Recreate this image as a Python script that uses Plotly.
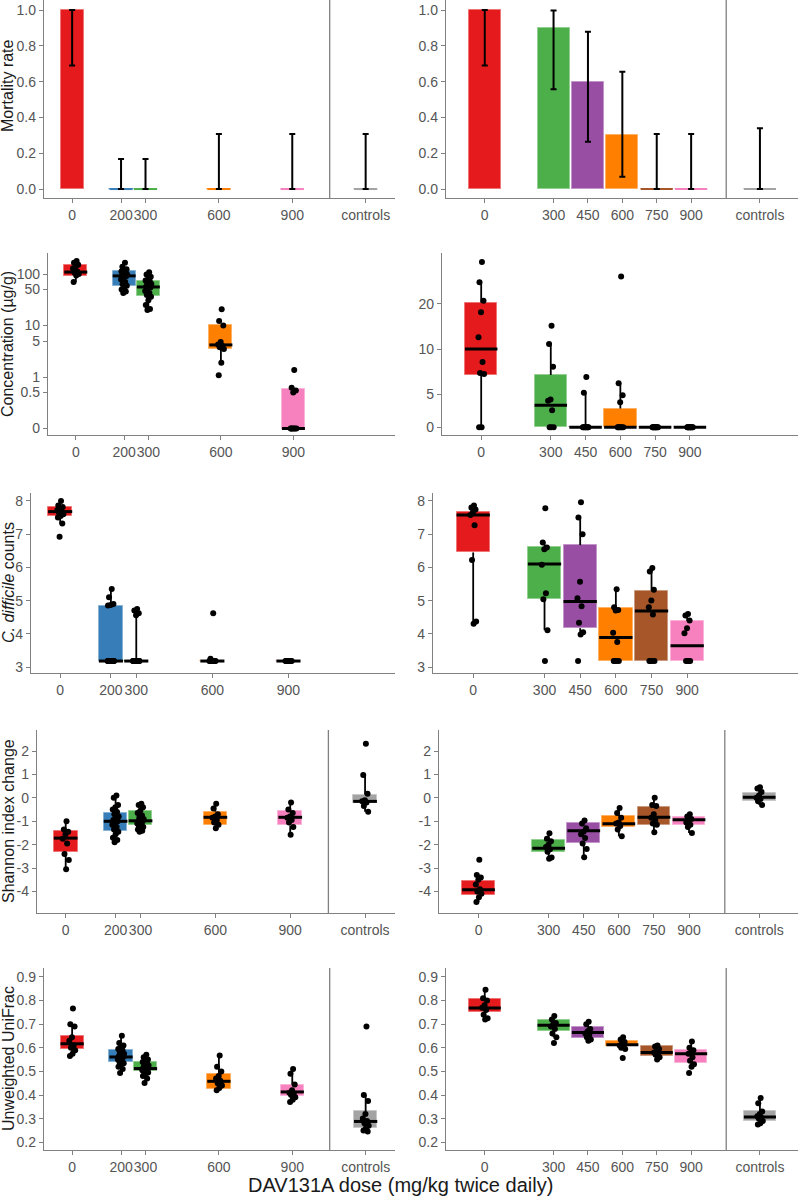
import math
import plotly.graph_objects as go

# ---------------- data ----------------
LEFT_DOSES = ["0", "200", "300", "600", "900", "controls"]
RIGHT_DOSES = ["0", "300", "450", "600", "750", "900", "controls"]
DOSE_POS = {"0": 0, "200": 200, "300": 300, "450": 450, "600": 600,
            "750": 750, "900": 900, "controls": 1200}
DOSE_COLOR = {"0": "#E41A1C", "200": "#377EB8", "300": "#4DAF4A", "450": "#984EA3",
              "600": "#FF7F00", "750": "#A65628", "900": "#F781BF", "controls": "#A3A3A3"}

# Row 1: mortality rate with CI
mort_left = [1.0, 0, 0, 0, 0, 0]
mort_left_lo = [0.69, 0, 0, 0, 0, 0]
mort_left_hi = [1.0, 0.168, 0.168, 0.307, 0.307, 0.307]
mort_right = [1.0, 0.9, 0.6, 0.3, 0, 0, 0]
mort_right_lo = [0.69, 0.557, 0.264, 0.069, 0, 0, 0]
mort_right_hi = [1.0, 0.997, 0.879, 0.655, 0.307, 0.307, 0.339]

# Row 2: concentration (ug/g), 0 = below detection
conc_left_doses = ["0", "200", "300", "600", "900"]
conc_left_pts = {
    "0": [178, 165, 152, 140, 128, 112, 106, 100, 94, 70],
    "200": [165, 138, 124, 116, 112, 108, 103, 98, 95, 92, 90, 86, 78, 70, 63, 59, 56, 50, 46, 43],
    "300": [108, 98, 88, 80, 75, 72, 68, 64, 60, 57, 55, 52, 47, 43, 39, 36, 31, 25, 21, 20],
    "600": [20.6, 12.2, 10, 4.8, 4.3, 4.0, 3.8, 3.5, 1.9, 1.08],
    "900": [1.37, 0.62, 0.55, 0.5, 0, 0, 0, 0, 0, 0],
}
conc_left_q1 = [91, 59, 38, 3.45, 0]
conc_left_med = [109, 92, 56, 4.2, 0]
conc_left_q3 = [149, 114, 73, 10.2, 0.58]
conc_left_lw = [70, 43, 20, 1.9, 0]
conc_left_uw = [178, 165, 108, 10.2, 0.58]

conc_right_doses = ["0", "300", "450", "600", "750", "900"]
conc_right_pts = {
    "0": [38.2, 27.9, 21.0, 17.6, 12.0, 8.2, 6.9, 6.8, 0, 0],
    "300": [14.3, 10.8, 7.6, 4.6, 4.5, 3.9, 0, 0, 0],
    "450": [6.5, 5.1, 0, 0, 0, 0, 0, 0, 0, 0],
    "600": [30.5, 5.9, 4.9, 4.4, 0, 0, 0, 0, 0, 0],
    "750": [0, 0, 0, 0, 0, 0, 0, 0, 0, 0],
    "900": [0, 0, 0, 0, 0, 0, 0, 0, 0, 0],
}
conc_right_q1 = [6.7, 0, 0, 0, 0, 0]
conc_right_med = [10, 4.2, 0, 0, 0, 0]
conc_right_q3 = [20.4, 6.7, 0, 4.0, 0, 0]
conc_right_lw = [0, 0, 0, 0, 0, 0]
conc_right_uw = [27.9, 10.8, 5.1, 5.9, 0, 0]

# Row 3: C. difficile counts
cd_left_doses = ["0", "200", "300", "600", "900"]
cd_left_pts = {
    "0": [8.0, 7.86, 7.82, 7.78, 7.72, 7.68, 7.65, 7.6, 7.55, 7.5, 7.32, 6.92],
    "200": [5.35, 5.1, 4.9, 4.87, 4.85, 3.18, 3.18, 3.18, 3.18, 3.18, 3.18, 3.18, 3.18,
            3.18, 3.18, 3.18, 3.18, 3.18, 3.18, 3.18],
    "300": [4.75, 4.7, 4.62, 4.56, 3.18, 3.18, 3.18, 3.18, 3.18, 3.18, 3.18, 3.18, 3.18,
            3.18, 3.18, 3.18, 3.18, 3.18, 3.18, 3.18],
    "600": [4.62, 3.25, 3.18, 3.18, 3.18, 3.18, 3.18, 3.18, 3.18, 3.18],
    "900": [3.18, 3.18, 3.18, 3.18, 3.18, 3.18, 3.18, 3.18, 3.18, 3.18],
}
cd_left_q1 = [7.55, 3.18, 3.18, 3.18, 3.18]
cd_left_med = [7.68, 3.18, 3.18, 3.18, 3.18]
cd_left_q3 = [7.82, 4.85, 3.18, 3.18, 3.18]
cd_left_lw = [7.32, 3.18, 3.18, 3.18, 3.18]
cd_left_uw = [8.0, 5.35, 4.75, 3.25, 3.18]

cd_right_doses = ["0", "300", "450", "600", "750", "900"]
cd_right_pts = {
    "0": [7.86, 7.8, 7.74, 7.67, 7.58, 7.27, 6.22, 4.37, 4.3],
    "300": [7.78, 6.75, 6.6, 6.55, 6.08, 5.22, 5.04, 4.11, 3.18],
    "450": [7.96, 7.5, 7.0, 5.57, 5.07, 4.83, 4.33, 4.05, 3.98, 3.18],
    "600": [5.34, 4.8, 4.72, 4.7, 4.03, 3.75, 3.18, 3.18, 3.18, 3.18],
    "750": [5.98, 5.88, 5.33, 5.0, 4.8, 4.58, 3.18, 3.18, 3.18, 3.18],
    "900": [4.6, 4.55, 4.4, 4.17, 4.02, 3.18, 3.18, 3.18, 3.18],
}
cd_right_q1 = [6.45, 5.05, 4.17, 3.18, 3.18, 3.18]
cd_right_med = [7.58, 6.1, 4.97, 3.89, 4.69, 3.64]
cd_right_q3 = [7.68, 6.6, 6.67, 4.77, 5.3, 4.39]
cd_right_lw = [4.3, 4.11, 3.98, 3.18, 3.18, 3.18]
cd_right_uw = [7.86, 6.75, 7.5, 5.34, 5.98, 4.6]

# Row 4: Shannon index change
sh_left_pts = {
    "0": [-1.0, -1.35, -1.45, -1.55, -1.75, -1.95, -2.4, -2.65, -3.05],
    "200": [0.1, 0.0, -0.3, -0.4, -0.5, -0.6, -0.7, -0.8, -0.9, -0.95, -1.0, -1.05, -1.15,
            -1.25, -1.35, -1.45, -1.55, -1.7, -1.8, -1.9],
    "300": [-0.25, -0.3, -0.4, -0.55, -0.65, -0.75, -0.85, -0.9, -0.95, -1.0, -1.0, -1.05,
            -1.1, -1.15, -1.2, -1.25, -1.3, -1.35, -1.4, -1.45],
    "600": [-0.25, -0.45, -0.7, -0.8, -0.85, -0.95, -1.05, -1.15, -1.3],
    "900": [-0.2, -0.5, -0.65, -0.8, -0.85, -0.95, -1.05, -1.25, -1.58],
    "controls": [2.31, 0.98, 0.18, -0.1, -0.15, -0.2, -0.35, -0.59],
}
sh_left_q1 = [-2.3, -1.43, -1.18, -1.18, -1.18, -0.23]
sh_left_med = [-1.72, -1.0, -0.98, -0.83, -0.83, -0.15]
sh_left_q3 = [-1.43, -0.64, -0.57, -0.59, -0.57, 0.14]
sh_left_lw = [-3.05, -1.9, -1.45, -1.3, -1.58, -0.59]
sh_left_uw = [-1.0, 0.1, -0.25, -0.25, -0.2, 0.98]

sh_right_pts = {
    "0": [-2.64, -3.3, -3.4, -3.5, -3.7, -3.9, -4.0, -4.1, -4.25, -4.45],
    "300": [-1.51, -1.75, -1.85, -2.0, -2.1, -2.2, -2.3, -2.55, -2.6],
    "450": [-0.97, -1.1, -1.3, -1.45, -1.55, -1.72, -1.95, -2.18, -2.54],
    "600": [-0.43, -0.65, -0.85, -1.05, -1.1, -1.2, -1.35, -1.64],
    "750": [0.0, -0.3, -0.35, -0.7, -0.85, -0.95, -1.1, -1.15, -1.47],
    "900": [-0.7, -0.8, -0.9, -0.95, -1.05, -1.15, -1.25, -1.5],
    "controls": [0.45, 0.4, 0.25, 0.1, 0.0, -0.05, -0.15, -0.3],
}
sh_right_q1 = [-4.17, -2.3, -1.92, -1.23, -1.14, -1.18, -0.15]
sh_right_med = [-3.93, -2.15, -1.4, -1.11, -0.83, -0.94, 0.03]
sh_right_q3 = [-3.56, -1.82, -1.08, -0.79, -0.4, -0.83, 0.2]
sh_right_lw = [-4.45, -2.6, -2.54, -1.64, -1.47, -1.5, -0.3]
sh_right_uw = [-3.3, -1.51, -0.97, -0.43, 0.0, -0.7, 0.45]

# Row 5: Unweighted UniFrac
uf_left_pts = {
    "0": [0.766, 0.70, 0.69, 0.645, 0.63, 0.61, 0.60, 0.59, 0.575, 0.565],
    "200": [0.651, 0.62, 0.61, 0.60, 0.595, 0.59, 0.58, 0.575, 0.57, 0.565, 0.56, 0.555,
            0.55, 0.545, 0.54, 0.535, 0.53, 0.52, 0.51, 0.493],
    "300": [0.571, 0.56, 0.55, 0.545, 0.54, 0.535, 0.53, 0.525, 0.52, 0.515, 0.51, 0.51,
            0.505, 0.5, 0.5, 0.495, 0.49, 0.48, 0.47, 0.451],
    "600": [0.567, 0.52, 0.50, 0.48, 0.47, 0.46, 0.45, 0.44, 0.43, 0.42],
    "900": [0.51, 0.49, 0.445, 0.42, 0.41, 0.405, 0.40, 0.39, 0.38, 0.37],
    "controls": [0.69, 0.40, 0.375, 0.32, 0.30, 0.29, 0.28, 0.27, 0.26, 0.25, 0.245],
}
uf_left_q1 = [0.595, 0.538, 0.50, 0.427, 0.394, 0.26]
uf_left_med = [0.617, 0.561, 0.512, 0.458, 0.413, 0.288]
uf_left_q3 = [0.651, 0.592, 0.54, 0.49, 0.444, 0.331]
uf_left_lw = [0.565, 0.493, 0.451, 0.42, 0.37, 0.245]
uf_left_uw = [0.70, 0.651, 0.571, 0.567, 0.51, 0.40]

uf_right_pts = {
    "0": [0.846, 0.81, 0.80, 0.78, 0.77, 0.76, 0.74, 0.725, 0.72],
    "300": [0.735, 0.72, 0.705, 0.70, 0.69, 0.68, 0.66, 0.645, 0.62],
    "450": [0.71, 0.70, 0.68, 0.67, 0.66, 0.655, 0.645, 0.635, 0.63],
    "600": [0.645, 0.635, 0.625, 0.62, 0.61, 0.605, 0.60, 0.595, 0.557],
    "750": [0.61, 0.605, 0.595, 0.585, 0.58, 0.575, 0.57, 0.56, 0.55],
    "900": [0.627, 0.60, 0.59, 0.58, 0.575, 0.56, 0.545, 0.53, 0.52, 0.493],
    "controls": [0.387, 0.365, 0.33, 0.32, 0.31, 0.305, 0.30, 0.29, 0.28, 0.275],
}
uf_right_q1 = [0.75, 0.67, 0.641, 0.606, 0.567, 0.536, 0.289]
uf_right_med = [0.769, 0.695, 0.665, 0.613, 0.58, 0.575, 0.307]
uf_right_q3 = [0.807, 0.719, 0.686, 0.627, 0.606, 0.592, 0.331]
uf_right_lw = [0.72, 0.645, 0.63, 0.595, 0.55, 0.52, 0.275]
uf_right_uw = [0.846, 0.735, 0.71, 0.645, 0.61, 0.627, 0.387]

Y_TITLES = ["Mortality rate", "Concentration (µg/g)", "<i>C. difficile</i> counts",
            "Shannon index change", "Unweighted UniFrac"]
X_TITLE = "DAV131A dose (mg/kg twice daily)"

# ---------------- style / layout ----------------
FW, FH = 800, 1201
FONT = "Liberation Sans, Arial, Helvetica, sans-serif"
AXIS_COLOR = "#808080"
TICK_FONT = dict(family=FONT, size=14, color="#555555")
BW_L, BW_R = 95, 140          # box / bar widths (data units)
JIT = 14                      # jitter amplitude (data units)
ROW_PX = [(0, 198), (253, 435), (493, 673), (730, 913), (968, 1150)]
LEFT_X0 = [44, 48, 31, 37, 44]
RIGHT_X0 = [446, 442, 433, 439, 446]
LEFT_X1, RIGHT_X1 = 395, 798
XRANGE_L = [-115, 1320]
XRANGE_R = [-169, 1366]
TITLE_Y_PX = [86, 344, 583, 821, 1059]
SEP_X = 1053


def sfx(k):
    return "" if k == 1 else str(k)


def tint(hexc, f=0.4):
    r, g, b = (int(hexc[i:i + 2], 16) for i in (1, 3, 5))
    r, g, b = (round(c + (255 - c) * f) for c in (r, g, b))
    return f"rgb({r},{g},{b})"


fig = go.Figure()


def axes(k):
    return dict(xaxis=f"x{sfx(k)}", yaxis=f"y{sfx(k)}")


def add_bars(k, doses, rate, lo, hi, width):
    xs = [DOSE_POS[d] for d in doses]
    cols = [DOSE_COLOR[d] for d in doses]
    fig.add_trace(go.Bar(x=xs, y=rate, width=width,
                         marker=dict(color=cols, line=dict(color=[tint(c) for c in cols], width=1)),
                         showlegend=False, hoverinfo="skip", **axes(k)))
    for x, v, c in zip(xs, rate, cols):
        if v == 0:
            fig.add_trace(go.Scatter(x=[x - width / 2, x + width / 2], y=[0, 0], mode="lines",
                                     line=dict(color=c, width=2), showlegend=False,
                                     hoverinfo="skip", **axes(k)))
    fig.add_trace(go.Scatter(
        x=xs, y=rate, mode="markers", marker=dict(size=1, color="rgba(0,0,0,0)"),
        error_y=dict(type="data", symmetric=False,
                     array=[h - v for h, v in zip(hi, rate)],
                     arrayminus=[v - l for v, l in zip(rate, lo)],
                     color="black", thickness=2, width=3),
        showlegend=False, hoverinfo="skip", **axes(k)))


def add_boxes(k, doses, pts, q1, med, q3, lw, uw, width, tf=lambda v: v):
    xs = [DOSE_POS[d] for d in doses]
    cols = [DOSE_COLOR[d] for d in doses]
    wx, wy = [], []
    for i, x in enumerate(xs):
        wx += [x, x, None, x, x, None]
        wy += [tf(lw[i]), tf(q1[i]), None, tf(q3[i]), tf(uw[i]), None]
    fig.add_trace(go.Scatter(x=wx, y=wy, mode="lines", line=dict(color="black", width=1.8),
                             showlegend=False, hoverinfo="skip", **axes(k)))
    fig.add_trace(go.Bar(x=xs, y=[tf(b) - tf(a) for a, b in zip(q1, q3)],
                         base=[tf(a) for a in q1], width=width,
                         marker=dict(color=cols, line=dict(color=[tint(c) for c in cols], width=1)),
                         showlegend=False, hoverinfo="skip", **axes(k)))
    mx, my = [], []
    for i, x in enumerate(xs):
        mx += [x - width / 2, x + width / 2, None]
        my += [tf(med[i]), tf(med[i]), None]
    fig.add_trace(go.Scatter(x=mx, y=my, mode="lines", line=dict(color="black", width=3),
                             showlegend=False, hoverinfo="skip", **axes(k)))
    px, py = [], []
    for x, d in zip(xs, doses):
        for j, v in enumerate(pts[d]):
            frac = ((j + 1) * 0.6180339887) % 1.0
            px.append(x + JIT * (2 * frac - 1))
            py.append(tf(v))
    fig.add_trace(go.Scatter(x=px, y=py, mode="markers",
                             marker=dict(color="black", size=6, line=dict(width=0)),
                             showlegend=False, hoverinfo="skip", **axes(k)))


tf_left = lambda v: math.log10(max(v, 0.1))
tf_right = lambda v: math.log10(max(v, 3.0))

# Row 1
add_bars(1, LEFT_DOSES, mort_left, mort_left_lo, mort_left_hi, BW_L)
add_bars(2, RIGHT_DOSES, mort_right, mort_right_lo, mort_right_hi, BW_R)
# Row 2
add_boxes(3, conc_left_doses, conc_left_pts, conc_left_q1, conc_left_med, conc_left_q3,
          conc_left_lw, conc_left_uw, BW_L, tf_left)
add_boxes(4, conc_right_doses, conc_right_pts, conc_right_q1, conc_right_med, conc_right_q3,
          conc_right_lw, conc_right_uw, BW_R, tf_right)
# Row 3
add_boxes(5, cd_left_doses, cd_left_pts, cd_left_q1, cd_left_med, cd_left_q3,
          cd_left_lw, cd_left_uw, BW_L)
add_boxes(6, cd_right_doses, cd_right_pts, cd_right_q1, cd_right_med, cd_right_q3,
          cd_right_lw, cd_right_uw, BW_R)
# Row 4
add_boxes(7, LEFT_DOSES, sh_left_pts, sh_left_q1, sh_left_med, sh_left_q3,
          sh_left_lw, sh_left_uw, BW_L)
add_boxes(8, RIGHT_DOSES, sh_right_pts, sh_right_q1, sh_right_med, sh_right_q3,
          sh_right_lw, sh_right_uw, BW_R)
# Row 5
add_boxes(9, LEFT_DOSES, uf_left_pts, uf_left_q1, uf_left_med, uf_left_q3,
          uf_left_lw, uf_left_uw, BW_L)
add_boxes(10, RIGHT_DOSES, uf_right_pts, uf_right_q1, uf_right_med, uf_right_q3,
          uf_right_lw, uf_right_uw, BW_R)

# y-axis specs per panel: (range, tickvals, ticktext)
conc_l_ticks = [0.1, 0.5, 1, 5, 10, 50, 100]
conc_r_ticks = [3, 5, 10, 20]
Y_SPECS = {
    1: ([-0.05, 1.056], [0, 0.2, 0.4, 0.6, 0.8, 1.0], ["0.0", "0.2", "0.4", "0.6", "0.8", "1.0"]),
    3: ([-1.126, 2.408], [math.log10(v) for v in conc_l_ticks], ["0", "0.5", "1", "5", "10", "50", "100"]),
    4: ([0.425, 1.642], [math.log10(v) for v in conc_r_ticks], ["0", "5", "10", "20"]),
    5: ([2.82, 8.24], [3, 4, 5, 6, 7, 8], ["3", "4", "5", "6", "7", "8"]),
    7: ([-4.92, 2.9], [-4, -3, -2, -1, 0, 1, 2], ["-4", "-3", "-2", "-1", "0", "1", "2"]),
    9: ([0.167, 0.938], [0.2, 0.3, 0.4, 0.5, 0.6, 0.7, 0.8, 0.9],
        ["0.2", "0.3", "0.4", "0.5", "0.6", "0.7", "0.8", "0.9"]),
}
Y_SPECS[2] = Y_SPECS[1]
Y_SPECS[6] = Y_SPECS[5]
Y_SPECS[8] = Y_SPECS[7]
Y_SPECS[10] = Y_SPECS[9]

layout_axes = {}
for r in range(5):
    top, bot = ROW_PX[r]
    ydom = [1 - bot / FH, 1 - top / FH]
    for c in range(2):
        k = r * 2 + c + 1
        s = sfx(k)
        doses = LEFT_DOSES if c == 0 else RIGHT_DOSES
        if r in (1, 2):
            doses = doses[:-1]
        x0 = LEFT_X0[r] if c == 0 else RIGHT_X0[r]
        x1 = LEFT_X1 if c == 0 else RIGHT_X1
        common = dict(showline=True, linecolor=AXIS_COLOR, linewidth=1.3, ticks="outside",
                      ticklen=4, tickwidth=1.1, tickcolor=AXIS_COLOR, tickfont=TICK_FONT,
                      showgrid=False, zeroline=False, automargin=False, fixedrange=True,
                      tickangle=0)
        layout_axes[f"xaxis{s}"] = dict(
            domain=[x0 / FW, x1 / FW], range=XRANGE_L if c == 0 else XRANGE_R,
            tickvals=[DOSE_POS[d] for d in doses], ticktext=doses,
            anchor=f"y{s}", **common)
        rng, tv, tt = Y_SPECS[k]
        layout_axes[f"yaxis{s}"] = dict(domain=ydom, range=rng, tickvals=tv, ticktext=tt,
                                        anchor=f"x{s}", **common)

shapes = []
for r in (0, 3, 4):
    for c in range(2):
        k = r * 2 + c + 1
        s = sfx(k)
        shapes.append(dict(type="line", x0=SEP_X, x1=SEP_X, y0=0, y1=1, xref=f"x{s}",
                           yref=f"y{s} domain", line=dict(color=AXIS_COLOR, width=1.3)))

annotations = []
for r in range(5):
    annotations.append(dict(text=Y_TITLES[r], x=8 / FW, y=1 - TITLE_Y_PX[r] / FH,
                            xref="paper", yref="paper", xanchor="center", yanchor="middle",
                            textangle=-90, showarrow=False,
                            font=dict(family=FONT, size=16, color="#1a1a1a")))
annotations.append(dict(text=X_TITLE, x=400 / FW, y=1 - 1185 / FH, xref="paper", yref="paper",
                        xanchor="center", yanchor="middle", showarrow=False,
                        font=dict(family=FONT, size=20, color="#1a1a1a")))

fig.update_layout(
    template="none",
    width=FW, height=FH,
    margin=dict(l=0, r=0, t=0, b=0, pad=0),
    paper_bgcolor="white", plot_bgcolor="white",
    barmode="overlay", bargap=0,
    showlegend=False,
    annotations=annotations,
    shapes=shapes,
    font=dict(family=FONT),
    **layout_axes,
)

fig.write_html(
    "out.html",
    config={"displayModeBar": False},
    post_script="document.body.style.margin='0';document.body.style.padding='0';"
                "document.body.style.overflow='hidden';",
)
